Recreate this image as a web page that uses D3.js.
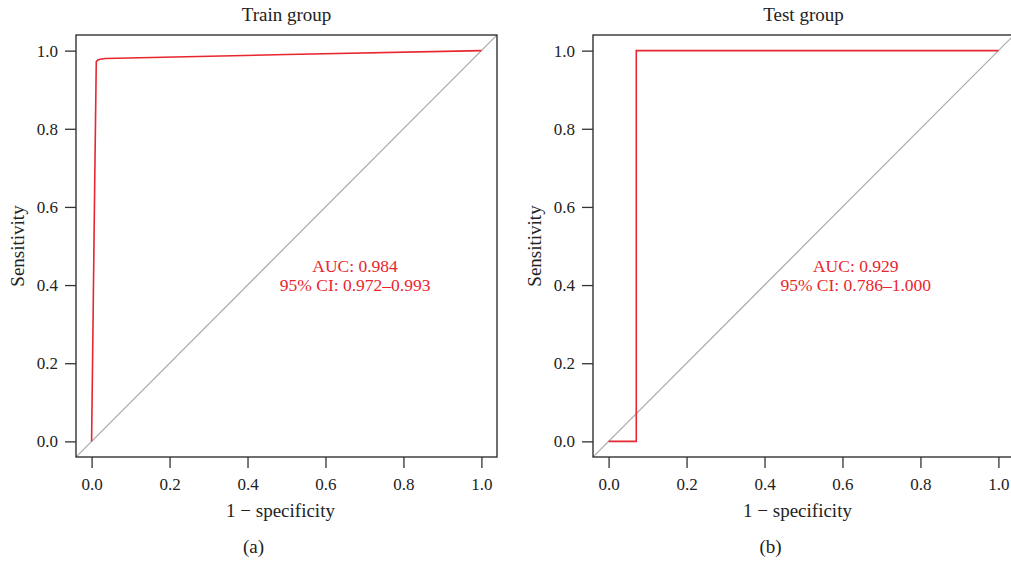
<!DOCTYPE html>
<html>
<head>
<meta charset="utf-8">
<script src="https://cdn.jsdelivr.net/npm/d3@7"></script>
<style>
  body { margin: 0; background: #fff; }
  text { font-family: "Liberation Serif", "DejaVu Serif", serif; }
</style>
</head>
<body>
<svg id="canvas" width="1011" height="561"></svg>
<script>
// data
const panelTitles = ['Train group', 'Test group'];
const panelTags = ['(a)', '(b)'];
const trainFpr = [0, 0.004, 0.008, 0.012, 0.016, 0.022, 0.035, 0.5, 1];
const trainSens = [0, 0.33, 0.66, 0.972, 0.976, 0.978, 0.98, 0.99, 1];
const testFpr = [0, 0.071, 0.071, 1];
const testSens = [0, 0, 1, 1];
const aucLabels = [['AUC: 0.984', '95% CI: 0.972\u20130.993'], ['AUC: 0.929', '95% CI: 0.786\u20131.000']];
const aucPos = [[0.676, 0.45], [0.634, 0.45]];
const ticks = [0, 0.2, 0.4, 0.6, 0.8, 1.0];

const series = [
  trainFpr.map((x, i) => ({ x, y: trainSens[i] })),
  testFpr.map((x, i) => ({ x, y: testSens[i] }))
];

// layout
const svg = d3.select('#canvas');
const boxW = 421, boxH = 422;
const offsets = [{ left: 76, top: 35 }, { left: 593, top: 35 }];
const red = '#e8262e';

offsets.forEach((o, i) => {
  const g = svg.append('g').attr('transform', `translate(${o.left},${o.top})`);

  const x = d3.scaleLinear().domain([-0.04, 1.04]).range([0, boxW]);
  const y = d3.scaleLinear().domain([-0.04, 1.04]).range([boxH, 0]);

  // clip for plot region
  g.append('clipPath').attr('id', 'clip' + i)
    .append('rect').attr('width', boxW).attr('height', boxH);

  // diagonal reference line
  g.append('line')
    .attr('clip-path', `url(#clip${i})`)
    .attr('x1', x(-0.04)).attr('y1', y(-0.04))
    .attr('x2', x(1.04)).attr('y2', y(1.04))
    .attr('stroke', '#a8a8a8').attr('stroke-width', 1.2);

  // roc curve
  const line = d3.line().x(d => x(d.x)).y(d => y(d.y));
  g.append('path')
    .datum(series[i])
    .attr('d', line)
    .attr('fill', 'none')
    .attr('stroke', red)
    .attr('stroke-width', 1.6);

  // box
  g.append('rect')
    .attr('width', boxW).attr('height', boxH)
    .attr('fill', 'none').attr('stroke', '#222').attr('stroke-width', 1.3);

  // axes
  const xAxis = d3.axisBottom(x).tickValues(ticks).tickFormat(d3.format('.1f')).tickSize(11).tickPadding(10);
  const yAxis = d3.axisLeft(y).tickValues(ticks).tickFormat(d3.format('.1f')).tickSize(11).tickPadding(7);

  g.append('g').attr('transform', `translate(0,${boxH})`).call(xAxis);
  g.append('g').call(yAxis);

  g.selectAll('.domain').remove();
  g.selectAll('.tick line').attr('stroke', '#333').attr('stroke-width', 1.3);
  g.selectAll('.tick text')
    .attr('fill', '#222')
    .style('font-family', '"Liberation Serif", serif')
    .style('font-size', '17px');

  // title
  g.append('text')
    .attr('x', boxW / 2).attr('y', -14)
    .attr('text-anchor', 'middle')
    .attr('font-size', 19).attr('fill', '#222')
    .text(panelTitles[i]);

  // axis labels
  g.append('text')
    .attr('x', x(0.5) - 6).attr('y', boxH + 60)
    .attr('text-anchor', 'middle')
    .attr('font-size', 19).attr('fill', '#222')
    .text('1 \u2212 specificity');

  g.append('text')
    .attr('transform', `translate(${-52},${y(0.5)}) rotate(-90)`)
    .attr('text-anchor', 'middle')
    .attr('font-size', 19).attr('fill', '#222')
    .text('Sensitivity');

  // panel tag
  g.append('text')
    .attr('x', x(0.5) - 33).attr('y', boxH + 96)
    .attr('text-anchor', 'middle')
    .attr('font-size', 19).attr('fill', '#222')
    .text(panelTags[i]);

  // auc text
  g.selectAll('.auc')
    .data(aucLabels[i])
    .join('text')
      .attr('class', 'auc')
      .attr('x', x(aucPos[i][0]))
      .attr('y', (d, k) => y(aucPos[i][1]) + 6 + k * 19)
      .attr('text-anchor', 'middle')
      .attr('font-size', 17.5).attr('fill', red)
      .text(d => d);
});
</script>
</body>
</html>
